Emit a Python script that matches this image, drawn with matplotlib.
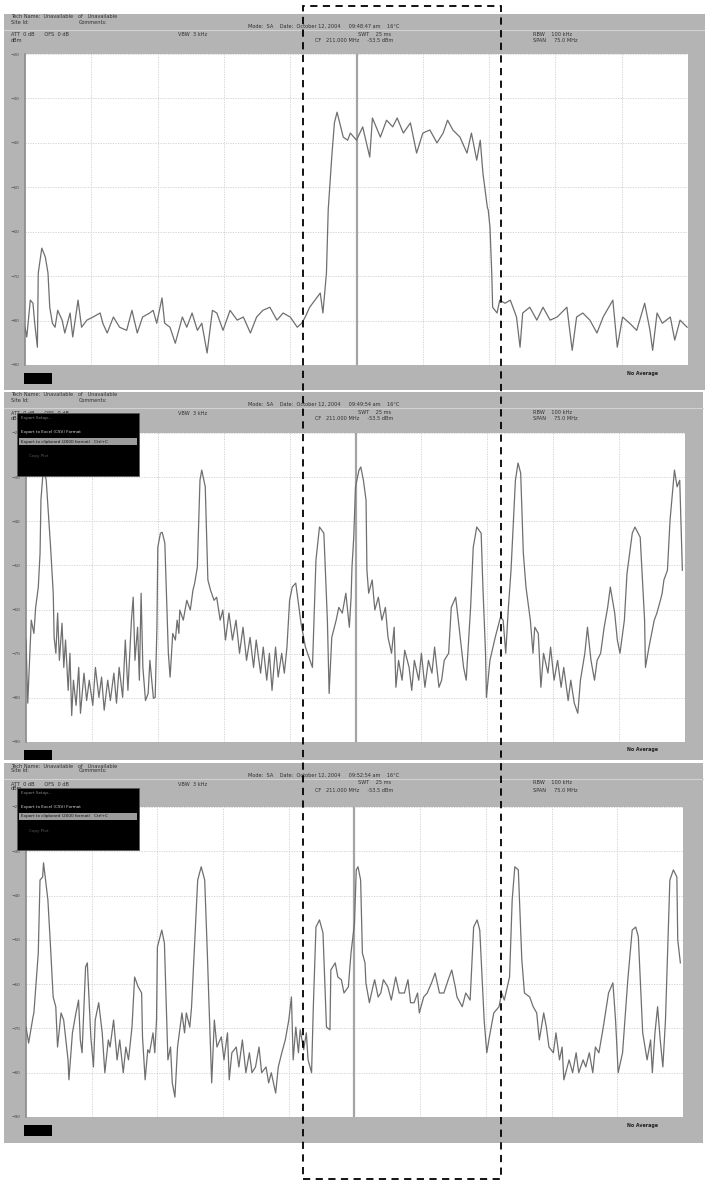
import matplotlib
matplotlib.use("Agg")
import matplotlib.pyplot as plt
from matplotlib.patches import Rectangle
from matplotlib.lines import Line2D

# sweep: CF 211 MHz, span 75 MHz, 10 dB/div
f_start, f_stop = 173.5, 248.5
ref_level, bottom_level = -20, -90

# capture 1 (09:48:47)
freq1 = [173.5, 173.7, 174.1, 174.4, 174.6, 174.9, 175.0, 175.4, 175.8, 176.1,
         176.3, 176.6, 176.9, 177.2, 177.7, 178.0, 178.6, 178.9, 179.5, 179.9,
         180.5, 181.2, 182.0, 182.3, 182.8, 183.5, 184.2, 185.0, 185.6, 186.2,
         186.8, 187.6, 188.0, 188.4, 189.0, 189.3, 189.9, 190.5, 191.3, 191.8,
         192.4, 193.0, 193.5, 194.1, 194.7, 195.2, 195.9, 196.7, 197.5, 198.2,
         199.0, 199.7, 200.4, 201.2, 202.0, 202.7, 203.5, 204.3, 204.8, 205.2,
         205.7, 206.3, 206.9, 207.2, 207.6, 207.8, 208.2, 208.5, 208.8, 209.1,
         209.5, 210.0, 210.3, 211.0, 211.7, 212.5, 212.8, 213.7, 214.4, 215.1,
         215.6, 216.3, 217.1, 217.8, 218.5, 219.3, 220.1, 220.8, 221.3, 221.9,
         222.7, 223.5, 224.0, 224.6, 225.0, 225.3, 225.8, 225.9, 226.1, 226.3,
         226.4, 226.9, 227.2, 227.8, 228.4, 229.1, 229.5, 229.8, 230.6, 231.4,
         232.1, 232.9, 233.7, 234.8, 235.4, 235.9, 236.6, 237.4, 238.2, 238.9,
         240.0, 240.5, 241.1, 241.9, 242.7, 243.6, 244.2, 244.5, 245.0, 245.6,
         246.5, 247.0, 247.6, 248.4]
level1 = [-81.5, -83.7, -75.4, -76.1, -80.6, -86.0, -69.3, -63.7, -65.7, -69.3,
          -77.0, -80.6, -81.5, -77.7, -79.9, -82.8, -78.3, -83.7, -75.4, -81.5,
          -79.9, -79.2, -78.3, -80.6, -82.8, -79.2, -81.5, -82.2, -77.7, -82.8,
          -79.2, -78.3, -77.7, -80.6, -74.9, -80.6, -81.5, -85.1, -79.2, -81.5,
          -78.3, -82.2, -80.6, -87.3, -77.7, -78.3, -82.2, -77.7, -79.9, -79.2,
          -82.8, -79.2, -77.7, -77.0, -79.9, -78.3, -79.2, -81.5, -80.6, -79.2,
          -77.0, -75.4, -73.8, -78.3, -69.3, -55.1, -43.2, -35.5, -33.1, -35.5,
          -38.7, -39.4, -37.8, -39.4, -36.4, -43.2, -34.4, -38.7, -34.9, -36.4,
          -34.4, -37.8, -35.5, -42.3, -37.8, -37.1, -40.0, -37.8, -34.9, -37.1,
          -38.7, -42.3, -37.8, -43.9, -39.4, -46.8, -54.5, -55.1, -59.0, -69.3,
          -77.0, -78.3, -75.4, -76.1, -75.4, -79.2, -86.0, -78.3, -77.0, -79.9,
          -77.0, -79.9, -79.2, -77.0, -86.7, -79.2, -78.3, -79.9, -82.8, -79.2,
          -75.4, -86.0, -79.2, -80.6, -82.2, -76.1, -82.2, -86.7, -78.3, -80.6,
          -79.2, -84.4, -79.9, -81.5]

# capture 2 (09:49:54)
freq2 = [173.5, 173.7, 174.1, 174.4, 174.6, 174.9, 175.1, 175.2, 175.4, 175.5,
         175.8, 176.1, 176.3, 176.6, 176.7, 176.9, 177.1, 177.3, 177.6, 177.8,
         178.0, 178.3, 178.5, 178.7, 178.9, 179.2, 179.5, 179.7, 180.1, 180.4,
         180.7, 181.1, 181.4, 181.8, 182.1, 182.4, 182.8, 183.1, 183.5, 183.8,
         184.1, 184.5, 184.8, 185.1, 185.5, 185.7, 185.9, 186.2, 186.4, 186.6,
         186.8, 187.1, 187.4, 187.6, 188.0, 188.2, 188.4, 188.5, 188.8, 189.0,
         189.3, 189.7, 189.9, 190.2, 190.5, 190.7, 190.9, 191.0, 191.4, 191.8,
         192.2, 192.5, 192.7, 193.0, 193.3, 193.5, 193.9, 194.2, 194.5, 194.9,
         195.2, 195.6, 195.9, 196.2, 196.6, 197.0, 197.4, 197.8, 198.2, 198.6,
         199.0, 199.4, 199.7, 200.2, 200.5, 200.9, 201.2, 201.5, 201.9, 202.2,
         202.6, 202.9, 203.2, 203.5, 203.8, 204.2, 204.8, 205.3, 206.1, 206.5,
         206.9, 207.4, 207.8, 208.0, 208.3, 208.8, 209.1, 209.5, 209.9, 210.3,
         210.5, 210.6, 210.8, 211.0, 211.4, 211.6, 211.9, 212.2, 212.3, 212.5,
         212.9, 213.2, 213.6, 214.0, 214.4, 214.7, 215.1, 215.4, 215.6, 215.9,
         216.3, 216.6, 217.1, 217.4, 217.7, 218.2, 218.5, 218.9, 219.3, 219.7,
         220.0, 220.5, 220.8, 221.1, 221.6, 221.9, 222.4, 222.7, 223.3, 223.6,
         224.1, 224.4, 224.8, 225.3, 225.5, 225.8, 225.9, 226.3, 226.9, 227.5,
         227.8, 228.1, 228.4, 228.7, 229.2, 229.5, 229.8, 230.1, 230.4, 230.9,
         231.2, 231.4, 231.8, 232.1, 232.4, 232.9, 233.2, 233.6, 234.0, 234.4,
         234.7, 235.2, 235.5, 235.9, 236.3, 236.6, 237.1, 237.4, 237.8, 238.2,
         238.5, 238.9, 239.3, 239.7, 240.0, 240.5, 240.8, 241.1, 241.6, 241.9,
         242.5, 242.8, 243.4, 243.9, 244.0, 244.4, 245.0, 245.3, 245.7, 245.9,
         246.1, 246.5, 246.8, 247.3, 247.6, 247.9, 248.2]
level2 = [-66.9, -81.2, -62.4, -65.4, -59.5, -54.9, -47.2, -35.2, -30.0, -28.0,
          -30.7, -39.7, -45.9, -56.3, -66.3, -69.9, -60.8, -71.5, -63.1, -73.1,
          -66.9, -78.3, -69.9, -84.0, -76.0, -81.7, -73.1, -83.5, -74.4, -80.6,
          -76.0, -81.7, -73.1, -79.9, -75.3, -82.8, -76.0, -80.6, -74.4, -81.2,
          -73.1, -79.9, -66.9, -78.3, -62.4, -57.2, -71.5, -64.0, -76.0, -56.3,
          -73.1, -80.6, -79.0, -71.5, -80.1, -79.9, -64.0, -45.9, -42.7, -42.5,
          -44.9, -69.9, -75.3, -65.4, -66.9, -62.4, -65.4, -60.1, -62.4, -57.9,
          -60.1, -55.6, -54.0, -50.4, -30.7, -28.4, -32.2, -53.3, -55.6, -57.9,
          -57.2, -62.4, -60.1, -66.9, -60.8, -66.9, -62.4, -69.9, -64.0, -71.5,
          -66.3, -73.1, -66.9, -74.4, -68.5, -76.0, -69.9, -78.3, -68.5, -75.3,
          -69.9, -74.4, -68.5, -57.9, -54.9, -54.0, -63.1, -68.5, -73.1, -48.8,
          -41.3, -42.7, -62.4, -79.0, -66.3, -62.4, -59.5, -60.8, -56.3, -64.0,
          -57.2, -50.4, -43.6, -32.2, -28.4, -27.7, -30.7, -35.2, -51.1, -56.3,
          -53.3, -60.1, -57.2, -62.4, -59.5, -66.3, -69.9, -64.0, -77.6, -71.5,
          -76.0, -69.2, -73.1, -78.3, -71.5, -76.0, -69.9, -77.6, -71.5, -74.4,
          -68.5, -77.6, -76.0, -71.5, -69.9, -59.5, -57.2, -62.4, -73.1, -76.0,
          -59.5, -45.9, -41.3, -42.7, -54.9, -69.9, -79.9, -71.5, -66.3, -61.7,
          -62.4, -69.9, -59.5, -51.1, -30.7, -26.8, -29.1, -47.2, -54.9, -62.4,
          -69.9, -64.0, -65.4, -77.6, -69.9, -74.4, -68.5, -76.0, -71.5, -77.6,
          -73.1, -80.6, -76.0, -81.2, -83.5, -76.0, -69.9, -64.0, -71.5, -76.0,
          -71.5, -69.9, -64.0, -59.5, -54.9, -60.8, -66.9, -69.9, -62.4, -51.8,
          -42.7, -41.3, -43.6, -62.4, -73.1, -68.5, -62.4, -60.8, -57.9, -56.3,
          -53.3, -51.1, -39.7, -28.4, -32.2, -30.7, -51.1]

# capture 3 (09:52:54)
freq3 = [173.5, 173.8, 174.3, 174.4, 174.9, 175.1, 175.4, 175.5, 176.0, 176.3,
         176.6, 176.9, 177.1, 177.5, 177.8, 178.3, 178.4, 178.8, 179.2, 179.5,
         179.7, 179.9, 180.3, 180.5, 180.9, 181.2, 181.4, 181.8, 182.2, 182.5,
         182.9, 183.1, 183.5, 183.9, 184.2, 184.6, 184.9, 185.2, 185.6, 185.9,
         186.3, 186.7, 186.8, 187.1, 187.4, 187.6, 188.0, 188.2, 188.4, 188.5,
         189.0, 189.3, 189.7, 190.0, 190.2, 190.5, 190.8, 191.3, 191.6, 191.8,
         192.2, 192.4, 192.7, 193.1, 193.5, 193.9, 194.2, 194.4, 194.7, 195.0,
         195.3, 195.8, 196.1, 196.5, 196.7, 197.0, 197.5, 197.8, 198.2, 198.6,
         199.0, 199.3, 199.7, 200.1, 200.4, 200.9, 201.2, 201.5, 202.0, 202.3,
         202.7, 203.1, 203.5, 203.8, 204.0, 204.3, 204.6, 204.8, 205.2, 205.5,
         205.7, 206.1, 206.3, 206.6, 207.0, 207.4, 207.8, 208.2, 208.3, 208.8,
         209.1, 209.5, 209.8, 210.3, 210.6, 211.0, 211.2, 211.4, 211.7, 211.9,
         212.2, 212.3, 212.7, 213.1, 213.3, 213.7, 214.0, 214.3, 214.8, 215.2,
         215.7, 216.1, 216.7, 217.1, 217.4, 217.8, 218.2, 218.4, 218.9, 219.3,
         219.8, 220.2, 220.7, 221.2, 221.7, 222.1, 222.5, 222.7, 223.3, 223.7,
         224.2, 224.6, 225.0, 225.3, 225.8, 226.1, 226.4, 226.9, 227.5, 227.8,
         228.1, 228.7, 229.0, 229.3, 229.7, 230.1, 230.4, 231.0, 231.4, 231.8,
         232.1, 232.6, 232.9, 233.2, 233.7, 234.0, 234.4, 234.7, 234.9, 235.5,
         235.9, 236.3, 236.6, 237.1, 237.4, 237.8, 238.2, 238.5, 238.9, 239.4,
         240.0, 240.5, 240.8, 241.1, 241.6, 242.2, 242.7, 243.1, 243.4, 243.9,
         244.4, 244.8, 245.0, 245.3, 245.6, 245.9, 246.2, 246.5, 246.7, 247.0,
         247.4, 247.8, 247.9, 248.2]
level3 = [-69.7, -73.3, -67.4, -66.5, -53.0, -36.5, -35.8, -32.6, -41.0, -51.6,
          -62.9, -65.1, -74.2, -66.5, -68.1, -77.1, -81.6, -71.0, -66.5, -63.6,
          -72.6, -75.5, -56.1, -55.2, -71.9, -78.7, -68.1, -64.2, -71.0, -80.0,
          -72.6, -74.2, -68.1, -77.1, -72.6, -80.0, -74.2, -77.1, -69.7, -58.4,
          -60.6, -62.0, -71.9, -81.6, -74.8, -75.5, -71.0, -75.5, -68.1, -51.6,
          -47.8, -50.7, -77.1, -74.2, -82.3, -85.5, -74.2, -66.5, -71.0, -66.5,
          -69.7, -65.1, -53.0, -36.5, -33.5, -36.5, -53.0, -65.1, -82.3, -68.1,
          -74.2, -71.9, -77.1, -71.0, -81.6, -75.5, -74.2, -78.7, -72.6, -80.0,
          -75.5, -80.0, -78.7, -74.2, -80.0, -78.7, -82.3, -80.0, -84.6, -78.7,
          -75.5, -72.6, -68.1, -62.9, -77.1, -69.7, -75.5, -70.3, -74.8, -71.0,
          -77.1, -80.0, -65.1, -47.1, -45.5, -48.4, -69.7, -70.3, -56.8, -55.2,
          -58.4, -59.0, -62.0, -60.6, -53.0, -46.2, -34.2, -33.5, -36.5, -53.0,
          -55.2, -59.7, -64.2, -60.6, -59.0, -62.9, -62.0, -59.0, -60.6, -63.6,
          -58.4, -62.0, -62.0, -59.0, -64.2, -64.2, -62.0, -66.5, -62.9, -62.0,
          -59.7, -57.5, -62.0, -62.0, -59.0, -56.8, -60.6, -62.9, -65.1, -62.0,
          -63.6, -47.1, -45.5, -47.8, -68.1, -75.5, -71.9, -66.5, -65.1, -62.0,
          -63.6, -58.4, -41.0, -33.5, -34.2, -54.5, -62.0, -62.9, -65.1, -66.5,
          -72.6, -66.5, -69.7, -74.2, -75.5, -71.0, -77.1, -74.2, -81.6, -77.1,
          -80.0, -75.5, -80.0, -77.1, -78.7, -75.5, -80.0, -74.2, -75.5, -69.7,
          -62.0, -59.7, -68.1, -80.0, -75.5, -59.0, -47.8, -47.1, -49.3, -71.0,
          -77.1, -72.6, -80.0, -71.0, -65.1, -72.6, -78.7, -68.1, -55.2, -36.5,
          -34.2, -35.8, -50.0, -55.2]

W, H = 705, 1181
GRAY = "#b4b4b4"
TRACE = "#6f6f6f"


def fx(px):
    return px / W


def fy(py):
    return 1 - py / H


def frect(x0, y0, x1, y1, **kw):
    return Rectangle((fx(x0), fy(y1)), (x1 - x0) / W, (y1 - y0) / H,
                     transform=fig.transFigure, **kw)


def ftext(x, y, s, size=3.6, color="#303030", **kw):
    fig.text(fx(x), fy(y), s, fontsize=size, color=color,
             ha="left", va="center", **kw)


fig = plt.figure(figsize=(W / 100, H / 100), dpi=100)
fig.patch.set_facecolor("white")

# screen layouts: (panel top, panel bottom, panel right, plot box, time, menu box)
panels = [
    dict(top=14, bottom=390, right=705, plot=(25, 54, 688, 365),
         time="09:48:47 am", menu=None, data=(freq1, level1)),
    dict(top=392, bottom=760, right=703, plot=(26, 433, 685, 742),
         time="09:49:54 am", menu=(17, 413, 139, 476), data=(freq2, level2)),
    dict(top=763, bottom=1143, right=703, plot=(26, 807, 683, 1117),
         time="09:52:54 am", menu=(17, 788, 139, 850), data=(freq3, level3)),
]

for p in panels:
    T = p["top"]
    fig.add_artist(frect(4, T, p["right"], p["bottom"], fc=GRAY, ec="none",
                         zorder=-2))
    fig.add_artist(Line2D([fx(4), fx(p["right"])], [fy(T + 16)] * 2,
                          transform=fig.transFigure, color="#d2d2d2", lw=0.8,
                          zorder=-1))
    ftext(11, T + 3, "Tech Name:  Unavailable   of   Unavailable")
    ftext(11, T + 8, "Site Id:")
    ftext(79, T + 8, "Comments:")
    ftext(248, T + 12, "Mode:  SA    Date:  October 12, 2004     " + p["time"] + "    16\u00b0C")
    ftext(11, T + 21, "ATT  0 dB      OFS  0 dB")
    ftext(11, T + 26, "dBm")
    ftext(178, T + 21, "VBW  3 kHz")
    ftext(358, T + 20, "SWT    25 ms")
    ftext(315, T + 27, "CF   211.000 MHz     -53.5 dBm")
    ftext(533, T + 20, "RBW    100 kHz")
    ftext(533, T + 27, "SPAN     75.0 MHz")

    x0, y0, x1, y1 = p["plot"]
    ax = fig.add_axes([fx(x0), fy(y1), (x1 - x0) / W, (y1 - y0) / H])
    ax.set_facecolor("white")
    freq, level = p["data"]
    ax.plot(freq, level, color=TRACE, lw=0.9, zorder=3)
    ax.set_xlim(f_start, f_stop)
    ax.set_ylim(bottom_level, ref_level)
    ax.set_xticks([f_start + 7.5 * k for k in range(11)])
    ax.set_yticks(range(bottom_level, ref_level + 1, 10))
    ax.grid(True, color="#cfcfcf", lw=0.6, ls=(0, (1.5, 1.5)))
    ax.axvline(211.0, color="#a4a4a4", lw=1.6, zorder=2)
    ax.tick_params(length=0, labelbottom=False, labelsize=3, pad=4,
                   labelcolor="#404040")
    for s in ax.spines.values():
        s.set_visible(False)
    ax.spines["left"].set_visible(True)
    ax.spines["left"].set_color("#8c8c8c")
    ax.spines["left"].set_linewidth(1.2)

    # footer
    fig.add_artist(frect(24, y1 + 8, 52, min(y1 + 19, p["bottom"]), fc="black",
                         ec="none", zorder=1))
    ftext(627, y1 + 8, "No Average", size=3.4, color="#202020",
          fontweight="bold")

    if p["menu"]:
        mx0, my0, mx1, my1 = p["menu"]
        fig.add_artist(frect(mx0, my0, mx1, my1, fc="black", ec="#555555",
                             lw=0.5, zorder=4))
        fig.add_artist(frect(mx0 + 2, my0 + 25, mx1 - 2, my0 + 32,
                             fc="#9c9c9c", ec="none", zorder=5))
        fig.text(fx(mx0 + 4), fy(my0 + 5), "Export Setup...", fontsize=3,
                 color="#8a8a8a", va="center", zorder=6)
        fig.text(fx(mx0 + 4), fy(my0 + 19), "Export to Excel (CSV) Format",
                 fontsize=3, color="#d8d8d8", va="center", zorder=6)
        fig.text(fx(mx0 + 4), fy(my0 + 28.5),
                 "Export to clipboard (2000 format)   Ctrl+C", fontsize=3,
                 color="#111111", va="center", zorder=6)
        fig.text(fx(mx0 + 12), fy(my0 + 43), "Copy Plot", fontsize=3,
                 color="#555555", va="center", zorder=6)

# highlighted region across the three captures
fig.add_artist(frect(303, 6, 501, 1179, fill=False, ec="black", lw=1.3,
                     ls=(0, (4, 3)), zorder=10))

fig.savefig("out.png", dpi=100)
